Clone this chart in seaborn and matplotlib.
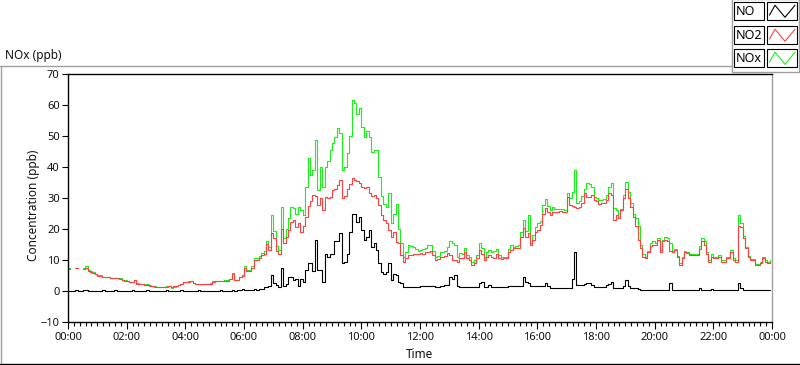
import numpy as np
import pandas as pd
import matplotlib
matplotlib.use("Agg")
import matplotlib.pyplot as plt
import matplotlib.dates as mdates
from matplotlib.patches import Rectangle
import seaborn as sns

nan = np.nan

# 5-minute readings, one row per hour (00:00 ... 23:55)
no2 = [
    7.2, 7.2, nan, 7.3, 7.3, nan, 7.2, 7.5, 6.5, 6.1, 5.8, 5.5,
    5.0, 5.0, 4.5, 4.4, 4.4, 4.1, 4.1, 4.1, 4.1, 4.0, 3.4, 3.3,
    3.2, 2.8, 2.8, 3.5, 2.4, 2.2, 2.1, 2.0, 2.0, 1.7, 1.5, 1.4,
    1.3, 1.3, 1.3, 1.3, 1.4, 1.5, 1.4, 1.5, 1.5, 1.8, 2.3, 2.8,
    2.9, 3.0, 3.1, 2.5, 2.3, 2.2, 2.2, 2.2, 2.2, 2.3, 2.4, 3.0,
    3.1, 3.1, 3.1, 3.2, 3.2, 3.3, 3.8, 5.5, 3.5, 3.6, 4.4, 5.0,
    7.5, 6.5, 6.5, 7.5, 10.0, 10.0, 10.5, 11.5, 11.8, 15.2, 13.2, 18.6,
    17.0, 13.0, 12.0, 20.0, 15.4, 17.5, 19.7, 22.4, 23.0, 20.8, 21.8, 19.0,
    21.0, 24.0, 27.5, 29.0, 31.0, 30.5, 27.7, 30.0, 26.0, 30.4, 30.0, 30.4,
    32.6, 33.0, 34.2, 35.8, 29.9, 30.5, 33.0, 34.5, 36.3, 35.8, 35.5, 34.7,
    33.7, 33.2, 33.5, 31.5, 30.8, 31.0, 30.0, 27.7, 24.5, 23.0, 22.0, 19.7,
    17.5, 19.0, 15.9, 15.4, 11.6, 9.5, 10.5, 11.6, 11.6, 12.0, 12.0, 12.0,
    12.3, 12.0, 12.5, 12.7, 13.0, 11.5, 10.0, 10.2, 11.0, 11.0, 11.2, 12.1,
    11.5, 10.0, 10.0, 9.5, 10.5, 10.5, 12.7, 10.5, 10.0, 8.4, 9.0, 10.5,
    13.2, 12.0, 10.0, 11.0, 11.6, 11.0, 10.5, 12.0, 10.5, 10.3, 10.5, 10.5,
    12.5, 13.2, 13.8, 13.8, 14.0, 17.5, 20.2, 17.5, 18.6, 14.8, 16.5, 19.0,
    19.7, 21.3, 25.0, 26.7, 25.6, 24.5, 25.6, 25.6, 25.6, 25.8, 25.6, 25.4,
    30.4, 27.7, 27.5, 27.2, 26.7, 27.0, 28.5, 31.5, 30.4, 30.4, 31.0, 29.4,
    29.0, 28.0, 28.3, 28.3, 29.5, 31.5, 31.0, 22.9, 24.5, 23.4, 26.0, 30.0,
    33.0, 30.0, 27.0, 24.0, 21.0, 16.5, 14.0, 11.0, 10.5, 12.5, 14.5, 14.8,
    14.8, 16.5, 12.7, 16.0, 16.5, 16.0, 13.0, 12.5, 13.2, 11.0, 8.5, 10.5,
    12.5, 12.1, 11.5, 11.6, 11.5, 11.6, 13.5, 16.0, 15.0, 12.0, 9.5, 11.0,
    10.5, 10.5, 11.0, 9.5, 9.5, 10.5, 10.5, 12.5, 10.0, 9.5, 21.0, 20.8,
    17.0, 13.8, 11.0, 10.0, 10.0, 8.4, 8.4, 9.0, 10.5, 9.5, 9.0, 9.5,
]

nox = [
    7.4, 7.4, nan, 7.5, 7.5, nan, 7.4, 8.0, 6.8, 6.3, 6.0, 5.6,
    5.1, 5.1, 4.6, 4.5, 4.5, 4.2, 4.2, 4.2, 4.1, 4.2, 3.5, 3.4,
    3.3, 3.0, 2.9, 3.6, 2.5, 2.3, 2.2, 2.1, 2.1, 1.8, 1.6, 1.5,
    1.4, 1.4, 1.4, 1.4, 1.5, 1.6, 1.1, 1.3, 1.5, 1.9, 2.4, 3.0,
    3.0, 3.1, 3.2, 2.6, 2.2, 2.3, 2.3, 2.3, 2.3, 2.4, 2.5, 3.1,
    3.2, 3.2, 3.2, 3.3, 3.4, 3.4, 4.0, 5.7, 3.6, 3.7, 4.5, 5.2,
    8.0, 6.8, 6.9, 8.0, 10.5, 10.6, 11.2, 12.3, 12.8, 16.0, 14.3, 24.5,
    19.5, 14.5, 13.2, 27.0, 17.0, 20.0, 23.5, 27.0, 26.7, 25.0, 27.0, 26.0,
    24.5, 33.5, 43.0, 37.5, 39.0, 48.7, 32.6, 40.0, 33.7, 40.0, 42.0, 45.5,
    47.6, 49.8, 52.5, 50.9, 39.0, 40.0, 44.4, 50.0, 61.5, 60.5, 57.0, 59.0,
    53.0, 49.8, 51.5, 49.8, 45.0, 45.5, 45.5, 36.9, 30.5, 28.0, 27.0, 31.5,
    22.0, 25.0, 28.0, 20.0, 15.4, 11.0, 12.5, 14.8, 14.5, 14.3, 13.5, 13.0,
    13.2, 13.5, 14.0, 14.8, 15.0, 13.0, 11.0, 11.2, 12.5, 12.7, 13.0, 14.3,
    16.0, 15.4, 15.0, 11.0, 12.1, 12.0, 13.8, 11.5, 11.0, 9.4, 10.0, 11.5,
    15.4, 14.0, 11.0, 12.5, 13.2, 12.5, 12.8, 13.6, 11.5, 11.0, 11.0, 11.0,
    13.5, 14.8, 14.3, 14.5, 14.8, 19.1, 22.9, 19.5, 24.5, 15.5, 18.0, 20.5,
    22.0, 22.5, 27.7, 29.6, 27.5, 26.0, 27.2, 26.5, 26.3, 26.5, 26.3, 26.0,
    31.5, 30.0, 32.0, 39.0, 28.3, 29.0, 30.5, 33.0, 34.7, 34.5, 33.5, 30.4,
    30.0, 29.5, 29.4, 29.6, 31.0, 33.7, 34.7, 26.7, 26.0, 25.0, 26.5, 31.0,
    35.3, 32.0, 28.5, 25.0, 23.4, 21.0, 14.8, 12.0, 11.0, 13.0, 15.4, 16.0,
    15.5, 17.0, 13.2, 16.5, 17.3, 17.0, 15.5, 13.0, 13.6, 11.4, 9.0, 11.0,
    13.0, 12.5, 12.0, 12.0, 12.0, 12.0, 14.5, 17.0, 16.0, 12.5, 10.0, 12.0,
    11.0, 11.0, 11.5, 10.0, 10.0, 11.0, 11.0, 13.2, 10.5, 10.0, 24.5, 22.0,
    17.8, 14.2, 11.4, 10.4, 10.4, 8.8, 8.8, 9.4, 11.0, 10.0, 9.4, 10.0,
]

no = [
    0.1, 0.0, 0.1, 0.2, 0.0, 0.1, 0.2, 0.4, 0.1, 0.0, 0.1, 0.1,
    0.0, 0.1, 0.2, 0.0, 0.1, 0.1, 0.0, 0.2, 0.1, 0.0, 0.1, 0.0,
    0.1, 0.0, 0.2, 0.1, 0.0, 0.1, 0.0, 0.1, 0.2, 0.0, 0.1, 0.0,
    0.0, 0.1, 0.1, 0.0, 0.2, 0.1, 0.0, 0.1, 0.0, 0.1, 0.2, 0.1,
    0.0, 0.1, 0.1, 0.0, 0.1, 0.2, 0.0, 0.1, 0.1, 0.0, 0.1, 0.1,
    0.0, 0.1, 0.2, 0.1, 0.0, 0.1, 0.1, 0.2, 0.1, 0.2, 0.3, 0.5,
    0.4, 0.3, 0.3, 0.3, 0.5, 0.4, 0.5, 0.8, 1.2, 1.3, 1.5, 5.2,
    2.6, 1.8, 1.4, 7.3, 1.5, 2.4, 4.5, 4.6, 3.5, 3.8, 1.6, 4.0,
    3.0, 6.8, 8.9, 8.9, 6.5, 16.5, 6.8, 6.8, 3.0, 12.0, 11.0, 12.0,
    12.0, 16.0, 16.0, 18.6, 8.9, 9.5, 12.0, 19.0, 25.0, 25.0, 22.4, 24.0,
    19.7, 16.5, 17.5, 19.7, 14.3, 15.5, 13.2, 9.0, 6.0, 5.5, 6.0, 9.0,
    3.5, 5.5, 5.2, 3.0, 2.5, 1.4, 1.4, 1.4, 1.4, 1.4, 1.4, 1.4,
    1.5, 1.5, 1.6, 1.6, 1.5, 1.5, 1.4, 1.4, 1.5, 1.6, 1.8, 2.0,
    4.5, 4.0, 5.2, 1.5, 1.4, 1.4, 1.3, 1.3, 1.2, 1.2, 1.3, 1.3,
    2.5, 3.0, 1.4, 1.4, 2.0, 1.4, 1.4, 1.4, 1.3, 1.3, 1.3, 1.3,
    1.5, 1.6, 1.5, 1.5, 1.5, 1.6, 4.6, 2.8, 2.5, 1.6, 1.5, 1.5,
    1.5, 1.5, 1.5, 2.5, 1.5, 1.0, 1.0, 0.9, 0.9, 0.9, 0.9, 0.9,
    0.9, 1.0, 4.0, 12.7, 2.0, 2.0, 2.0, 2.2, 2.5, 2.7, 2.0, 1.4,
    1.2, 1.2, 1.2, 1.3, 2.0, 2.2, 3.0, 1.0, 0.9, 0.9, 0.9, 1.5,
    3.5, 1.5, 0.9, 0.9, 0.9, 0.5, 0.3, 0.3, 0.3, 0.3, 0.3, 0.3,
    0.3, 0.3, 0.3, 0.3, 0.3, 0.3, 2.7, 0.4, 0.3, 0.3, 0.3, 0.3,
    0.3, 0.3, 0.3, 0.3, 0.3, 0.3, 1.0, 0.4, 0.3, 0.3, 0.3, 0.8,
    0.3, 0.3, 0.3, 0.3, 0.3, 0.3, 0.3, 0.3, 0.3, 0.3, 2.5, 1.0,
    0.3, 0.3, 0.3, 0.3, 0.3, 0.3, 0.3, 0.3, 0.3, 0.3, 0.3, 0.3,
]

series = ["NO", "NO2", "NOx"]
colors = {"NO": "#000000", "NO2": "#ff4040", "NOx": "#19f019"}

times = pd.date_range("2024-01-01 00:00", periods=len(no), freq="5min")
df = pd.DataFrame({"time": times, "NO": no, "NO2": no2, "NOx": nox})

sns.set_theme(style="white")
plt.rcParams["font.family"] = ["Noto Sans", "DejaVu Sans"]

fig = plt.figure(figsize=(8, 3.65), dpi=100)

# pixel canvas for the frame, titles and the legend
canvas = fig.add_axes([0, 0, 1, 1], zorder=-1)
canvas.set_xlim(0, 800)
canvas.set_ylim(365, 0)
canvas.axis("off")

ax = fig.add_axes([68 / 800, 1 - 322 / 365, 704 / 800, 248 / 365])
for col in ["NOx", "NO2", "NO"]:
    # keep the gaps in the record: one unit per unbroken run
    part = df[["time", col]].copy()
    part["run"] = part[col].isna().cumsum()
    part = part.dropna()
    sns.lineplot(data=part, x="time", y=col, units="run", color=colors[col],
                 lw=0.8, drawstyle="steps-post", estimator=None, ax=ax,
                 legend=False)

start = times[0]
ax.set_xlim(start, start + pd.Timedelta(days=1))
ax.set_ylim(-10, 70)
ax.set_yticks(range(-10, 71, 10))
ax.xaxis.set_major_locator(mdates.HourLocator(interval=2))
ax.xaxis.set_minor_locator(mdates.MinuteLocator(byminute=range(0, 60, 12)))
ax.xaxis.set_major_formatter(mdates.DateFormatter("%H:%M"))
ax.set_xlabel("")
ax.set_ylabel("")
ax.tick_params(axis="both", which="major", direction="out", length=4, width=0.8,
               color="black", labelsize=8, labelcolor="#111111", pad=2,
               bottom=True, left=True)
ax.tick_params(axis="x", which="major", length=5)
ax.tick_params(axis="x", which="minor", direction="out", length=3, width=0.8,
               color="black", bottom=True)
for side in ["left", "top", "bottom"]:
    ax.spines[side].set_color("black")
    ax.spines[side].set_linewidth(1)
ax.spines["right"].set_color("#a0a0a0")
ax.spines["right"].set_linewidth(1)

# outer frame
canvas.plot([0, 732], [66, 66], color="#a0a0a0", lw=1)
canvas.plot([1, 1], [66, 363], color="#a0a0a0", lw=1)
canvas.plot([0, 800], [363.5, 363.5], color="black", lw=1)

canvas.text(5, 56, "NOx (ppb)", fontsize=8.5, va="center", ha="left", color="#111111")
canvas.text(33, 205, "Concentration (ppb)", fontsize=8.5, rotation=90,
            va="center", ha="center", color="#111111")
canvas.text(419, 354, "Time", fontsize=8.5, va="center", ha="center", color="#111111")

# legend box
canvas.add_patch(Rectangle((732, -1), 67, 72.5, fill=False, edgecolor="#a0a0a0", lw=1))
rows = [(2, "NO"), (26, "NO2"), (49, "NOx")]
for y0, name in rows:
    h = 18
    canvas.add_patch(Rectangle((734, y0), 30, h, facecolor="white", edgecolor="black", lw=0.8))
    canvas.add_patch(Rectangle((767, y0), 30, h, facecolor="white", edgecolor="black", lw=0.8))
    canvas.text(736, y0 + h / 2 + 0.5, name, fontsize=9, va="center", ha="left", color="black")
    zx = [769.5, 775, 785, 795]
    zy = [y0 + 0.73 * h, y0 + 0.18 * h, y0 + 0.85 * h, y0 + 0.18 * h]
    canvas.plot(zx, zy, color=colors[name], lw=0.8)

fig.savefig("out.png", dpi=100)
